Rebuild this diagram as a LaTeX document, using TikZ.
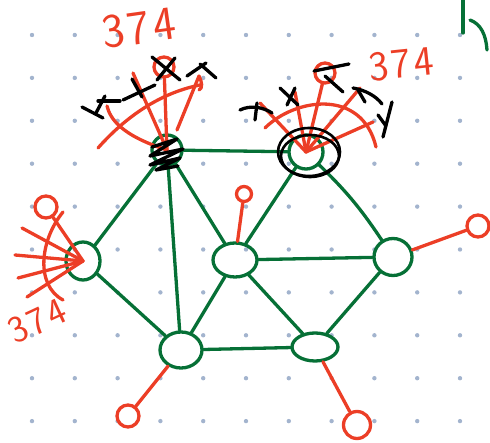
\documentclass[tikz,border=0pt]{standalone}
\usetikzlibrary{shapes.geometric}
\definecolor{pgreen}{RGB}{6,112,54}
\definecolor{pred}{RGB}{236,62,38}
\definecolor{pdot}{RGB}{163,180,206}
\begin{document}
\begin{tikzpicture}[x=1pt,y=-1pt,line cap=round,line join=round,
  gnode/.style={ellipse,draw=pgreen,line width=3.3pt,inner sep=0pt},
  gedge/.style={draw=pgreen,line width=3.3pt},
  redline/.style={draw=pred,line width=3.3pt},
  rcirc/.style={circle,draw=pred,line width=3.3pt,inner sep=0pt},
  blk/.style={draw=black,line width=3.3pt},
  lbl/.style={text=pred,font=\sffamily,inner sep=0pt}]
\useasboundingbox (0,0) rectangle (490,443);
% dot grid
\foreach \i in {0,...,10}
  \foreach \j in {0,...,9}
    \fill[pdot] (32+42.8*\i,35+42.9*\j) circle (2.2pt);

% graph nodes
\node[gnode,minimum width=30pt,minimum height=30pt] (A) at (167,150) {};
\node[gnode,minimum width=34pt,minimum height=34pt] (B) at (306,152) {};
\node[gnode,minimum width=34pt,minimum height=38pt] (C) at (83,261) {};
\node[gnode,minimum width=44pt,minimum height=34pt] (D) at (235,260) {};
\node[gnode,minimum width=38pt,minimum height=37pt] (E) at (393,257) {};
\node[gnode,minimum width=42pt,minimum height=36pt] (F) at (181,350) {};
\node[gnode,minimum width=46pt,minimum height=28pt] (G) at (315,347) {};

% red end circles
\node[rcirc,minimum size=20pt] (Ra) at (164,67) {};
\node[rcirc,minimum size=20pt] (Rb) at (325,73) {};
\node[rcirc,minimum size=22pt] (Rc) at (46,207) {};
\node[rcirc,minimum size=15pt] (Rd) at (244,194) {};
\node[rcirc,minimum size=22pt] (Re) at (478,226) {};
\node[rcirc,minimum size=22pt] (Rf) at (128,416) {};
\node[rcirc,minimum size=27pt] (Rg) at (357,425) {};

% green edges
\draw[gedge] (A) -- (B);
\draw[gedge] (A) -- (C);
\draw[gedge] (A) -- (F);
\draw[gedge] (A) -- (D);
\draw[gedge] (B) -- (D);
\draw[gedge] (B) to[bend left=6] (E);
\draw[gedge] (C) -- (F);
\draw[gedge] (D) -- (E);
\draw[gedge] (D) -- (F);
\draw[gedge] (D) -- (G);
\draw[gedge] (E) -- (G);
\draw[gedge] (F) -- (G);

% red connectors to end circles
\draw[redline] (D) -- (Rd);
\draw[redline] (E) -- (Re);
\draw[redline] (F) -- (Rf);
\draw[redline] (G) -- (Rg);
\draw[redline] (A.center) -- (Ra);
\draw[redline] (B.center) -- (Rb);
\draw[redline] (C.center) -- (Rc);

% fan at A
\coordinate (a1) at (133,73);
\coordinate (a2) at (107,106);
\coordinate (a3) at (199,76);
\draw[redline] (A.center) -- (a1);
\draw[redline] (A.center) .. controls (120,135) and (110,118) .. (a2);
\draw[redline] (177,130) -- (a3) .. controls (202,82) and (203,88) .. (199,90);
\draw[redline] (98,148) .. controls (130,112) and (165,92) .. (200,85);
% fan at B
\coordinate (b1) at (260,103);
\coordinate (b2) at (295,92);
\coordinate (b3) at (360,88);
\coordinate (b4) at (373,122);
\draw[redline] (B.center) -- (b1);
\draw[redline] (B.center) -- (b2);
\draw[redline] (B.center) -- (b3);
\draw[redline] (B.center) -- (b4);
\draw[redline] (265,128) .. controls (295,98) and (362,88) .. (376,147);
% fan at C
\coordinate (c1) at (22,228);
\coordinate (c2) at (15,255);
\coordinate (c3) at (18,278);
\coordinate (c4) at (27,297);
\draw[redline] (C.center) -- (c1);
\draw[redline] (C.center) -- (c2);
\draw[redline] (C.center) -- (c3);
\draw[redline] (C.center) -- (c4);
\draw[redline] (63,212) .. controls (40,240) and (35,285) .. (63,300);

% black marks at A
\draw[blk] (82,107) -- (103,118);
\draw[blk] (96,113) -- (105,96);
\draw[blk] (98,101) -- (120,101);
\draw[blk] (123,100) -- (155,85);
\draw[blk] (132,79) -- (142,97);
\draw[blk] (152,57) -- (180,80);
\draw[blk] (175,58) -- (157,80);
\draw[blk] (187,76) -- (206,63);
\draw[blk] (200,64) -- (216,78);
% scribble over A
\draw[blk] (152,147) -- (177,139) -- (150,156) -- (183,149) -- (150,165) -- (180,158) -- (156,170) -- (178,166);
% black marks at B
\draw[blk] (240,110) .. controls (250,105) and (263,107) .. (272,113);
\draw[blk] (257,103) -- (255,120);
\draw[blk] (280,88) -- (298,105);
\draw[blk] (295,88) -- (287,105);
\draw[blk] (314,71) -- (349,64);
\draw[blk] (325,76) -- (343,92);
\draw[blk] (353,88) .. controls (365,90) and (376,96) .. (382,104);
\draw[blk] (358,90) -- (365,102);
\draw[blk] (383,137) -- (392,102);
\draw[blk] (378,115) -- (386,126);
% black ring around B
\draw[blk,line width=2.6pt] (309,152) ellipse [x radius=31,y radius=24];
\draw[blk,line width=2.6pt] (310,156) ellipse [x radius=29,y radius=21];

% top-right mark
\coordinate (m1) at (463,0);
\coordinate (m2) at (463,33);
\draw[gedge] (m1) -- (m2);
\draw[gedge] (470,20) .. controls (481,24) and (486,35) .. (487,50);

% labels
\node[lbl,rotate=8,font=\sffamily\fontsize{48}{48}\selectfont] (t1) at (139,28) {3\kern3pt7\kern3pt4};
\node[lbl,rotate=6,font=\sffamily\fontsize{42}{42}\selectfont] (t2) at (401,64) {3\kern3pt7\kern3pt4};
\node[lbl,rotate=25,font=\sffamily\fontsize{38}{38}\selectfont] (t3) at (37,321) {3\kern3pt7\kern3pt4};
\end{tikzpicture}
\end{document}
